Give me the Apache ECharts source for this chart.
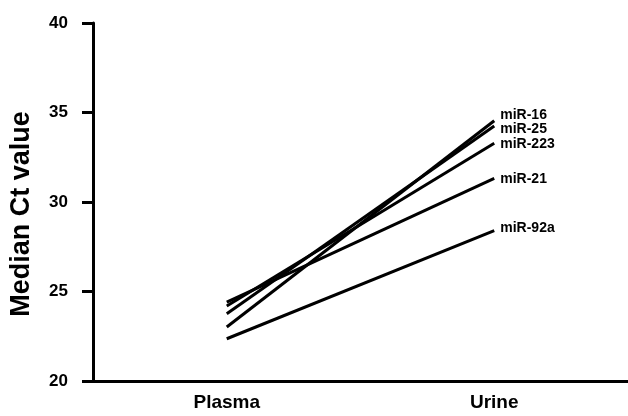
<!DOCTYPE html>
<html>
<head>
<meta charset="utf-8">
<script src="https://cdn.jsdelivr.net/npm/echarts@6/dist/echarts.min.js"></script>
<style>
html,body{margin:0;padding:0;background:#fff;}
#chart{width:628px;height:416px;}
</style>
</head>
<body>
<div id="chart"></div>
<script>
const categories = ['Plasma', 'Urine'];
const seriesNames = ['miR-16', 'miR-25', 'miR-223', 'miR-21', 'miR-92a'];
const plasmaValues = [23.02, 23.76, 24.19, 24.41, 22.36];
const urineValues = [34.54, 34.25, 33.28, 31.32, 28.40];
const yMin = 20, yMax = 40, yStep = 5;
const yTitle = 'Median Ct value';

// label styling (vertical nudges of the end labels)
const labelOffsets = [[1, -6], [1, 3], [1, 1], [1, 1], [1, -2]];

const font = '"Liberation Sans", Arial, Helvetica, sans-serif';

const chart = echarts.init(document.getElementById('chart'), null, {renderer: 'canvas'});

const series = seriesNames.map((name, i) => ({
  name: name,
  type: 'line',
  data: [plasmaValues[i], urineValues[i]],
  symbol: 'none',
  lineStyle: {color: '#000', width: 3},
  itemStyle: {color: '#000'},
  silent: true,
  animation: false,
  endLabel: {
    show: true,
    formatter: '{a}',
    color: '#000',
    fontFamily: font,
    fontWeight: 'bold',
    fontSize: 14,
    distance: 5,
    offset: labelOffsets[i]
  }
}));

chart.setOption({
  backgroundColor: '#fff',
  animation: false,
  grid: {left: 93, right: -4, top: 23, bottom: 35, containLabel: false},
  xAxis: {
    type: 'category',
    data: categories,
    boundaryGap: true,
    axisLine: {lineStyle: {color: '#000', width: 3}},
    axisTick: {alignWithLabel: true, length: 10, lineStyle: {color: '#000', width: 3}},
    axisLabel: {color: '#000', fontFamily: font, fontWeight: 'bold', fontSize: 19, margin: 12},
    splitLine: {show: false}
  },
  yAxis: {
    type: 'value',
    min: yMin,
    max: yMax,
    interval: yStep,
    name: yTitle,
    nameLocation: 'middle',
    nameGap: 58,
    nameTextStyle: {color: '#000', fontFamily: font, fontWeight: 'bold', fontSize: 27, padding: [0, 24, 0, 0]},
    axisLine: {show: true, lineStyle: {color: '#000', width: 3}},
    axisTick: {show: true, length: 11, lineStyle: {color: '#000', width: 3}},
    axisLabel: {color: '#000', fontFamily: font, fontWeight: 'bold', fontSize: 17, margin: 25},
    splitLine: {show: false}
  },
  series: series
});
</script>
</body>
</html>
